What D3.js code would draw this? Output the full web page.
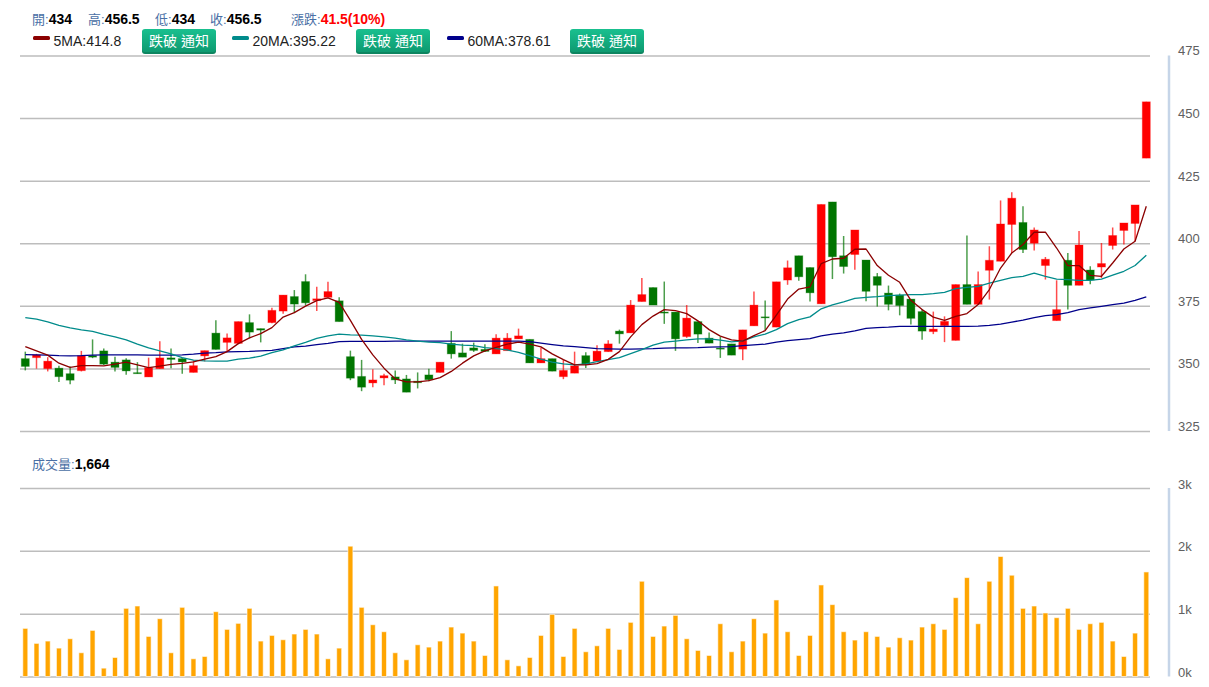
<!DOCTYPE html>
<html>
<head>
<meta charset="utf-8">
<script src="https://cdn.jsdelivr.net/npm/d3@7"></script>
<style>
  html, body { margin: 0; padding: 0; background: #fff; }
  svg { display: block; font-family: "Liberation Sans", Arial, "Noto Sans CJK TC", sans-serif; }
  .axis path, .axis line { display: none; }
  .axis text { fill: #606060; font-size: 13px; }
  .grid path { display: none; }
  .grid text { display: none; }
  .grid line { stroke: #bdbdbd; stroke-width: 1.5; }
</style>
</head>
<body>
<div id="chart"></div>
<script>
const opens = [353.9,354.3,349.9,350.1,347.9,349.1,355.1,357,352.5,353.4,348.3,346.6,349.9,354.2,353.9,348.4,355,364.1,360.4,360,368.3,365.9,368.3,372.9,378.7,384.7,377.1,378.4,377,354.7,346.8,344.2,346.2,346.6,345.8,344.9,347.4,348.4,360,356.2,358.2,357.6,355.8,357.1,361.8,361.6,352.2,353.9,346.7,348.1,355.1,352.9,356.7,364.9,364.2,376.7,382.3,372.5,372.5,362.7,368.7,362.1,358.1,359.8,357.7,367,370.6,366.5,385.3,395,390.3,375.8,416.5,395,395.5,393.3,386.7,380.1,379.3,377.7,372.7,364.7,367.1,361.2,383.5,375.6,389.2,392.8,407.5,408.3,400,391.1,369.1,393.2,383.2,389.3,390.5,399.1,405.1,407.9,434];
const highs = [356.7,355.8,354.5,351.1,350.8,357,361.6,358,354.7,354.1,352.5,354.3,360.9,358,354.1,353.2,357.1,369.2,363.9,368.7,371.6,365.9,374.2,379.3,381.3,387.6,382.6,384.6,378.4,357.1,353.4,349.7,347.9,349.2,347.4,348.4,349.9,352.5,364.9,359.9,360.3,359.7,363.6,364.1,365.9,361.6,358.3,353.9,353.4,356.7,356.5,359.3,361.3,365.5,377.3,386.1,382.3,384.7,372.5,375.3,368.7,364.3,362.6,359.8,365.4,380.7,377.1,384.6,393.1,395,390.3,415.5,416.5,402.9,405.3,393.3,388.1,383.1,379.9,377.7,373.7,372.7,370.8,383.5,403.1,388.7,398.8,417.1,420.4,414.8,406.3,394.5,385.2,396.1,404.9,390.8,400.1,406.3,408.1,415.3,456.5];
const lows = [349.2,349.9,348.8,344.6,343.7,348.8,354.1,351.4,348.8,347.5,347.9,346.6,349.9,350.1,347.9,348.4,352.8,357.6,356.7,359.7,362,360.4,368,371.8,372.1,375.1,372.9,378.4,368.7,345.3,340.9,342.5,343.3,343.8,340.5,342,344.9,348.4,353.9,354.5,356.6,356.6,355.8,357.1,361.8,352.2,352.2,348.9,345.7,348.1,350.2,352.9,356.7,359.9,364.2,376.7,375.3,367.8,357,362.2,360.2,360.1,354.2,355.3,353.3,367,365.3,366.5,383.4,385,376.7,375.8,385.7,387.9,389.4,376.8,374.7,373.2,371.2,367.5,361.5,363.7,360.5,361.2,375.6,375.6,377.5,392.8,396.1,396.1,397.1,385.5,369.1,373.5,383.2,383.6,386.1,397.5,399.5,400.8,434];
const closes = [350.8,355.4,352.9,346.7,345.3,355.1,354.5,351.7,350.4,349,348,350.3,354.2,353.6,352.6,351.1,357.1,357.6,362.2,368.7,364.5,365.3,373.2,379.3,375.7,376.2,377.8,380.7,368.7,346.1,342.5,345.4,347.1,345.4,340.5,344.3,345.5,352.5,355.8,354.5,357.2,356.8,362.1,362.1,363,352.2,353.9,348.9,349.2,351,351.7,356.9,359.8,363.8,375.3,379.5,375.3,372.1,361.8,370.1,363.7,360.1,357.7,355.3,365.4,375.3,370.2,384.6,390.2,386.6,380.2,415.5,394.6,390.7,405.3,380.8,383.2,375.6,375.1,370,364.9,365.7,368.8,383.5,375.6,383.5,393.2,407.7,418,397.5,405.3,393.6,373.5,383.2,399.3,385.3,391.9,403.1,408.1,415.3,456.5];
const volumes = [766,527,564,452,601,378,734,133,303,1085,1122,638,920,378,1101,282,319,1032,750,846,1085,564,654,585,676,750,676,282,452,2074,1101,824,713,378,266,505,468,564,787,691,564,335,1441,266,170,303,654,989,319,766,394,489,766,431,862,1516,638,803,973,601,415,335,840,394,564,920,691,1218,713,335,654,1457,1144,713,580,713,638,468,617,580,787,840,750,1255,1574,840,1516,1910,1612,1085,1122,1011,936,1085,750,840,862,564,319,691,1664];
const ma5 = [358.7,357,355.3,352.1,350.4,351.1,351.1,351,351.7,352.5,351.4,350.3,350.9,351.6,352,352.6,353.7,354.7,356.7,359.9,362.2,363.9,366.3,370.5,372.3,374.9,377.1,378.2,376.4,369.2,361.6,355.4,350.1,345.8,344.6,344.6,345.1,346.3,348.8,352.1,355,357,358.4,359.7,360.5,359.7,358.6,355.8,353.5,351.4,351.4,351.9,353.6,356.7,362.6,367.5,370.9,373.5,373.1,371.9,369,365.5,362.9,361.4,360.9,363.1,365.1,371.3,377.7,381.7,382.6,391.9,393.7,394,397.6,397.7,391.1,387.2,384.4,377.2,373.5,370.5,369.2,370.8,371.9,375.5,381.5,390.1,396.1,399.5,404.4,404.4,398.1,391.1,391.1,387.2,386.8,392.1,397.7,400.8,414.8];
const ma20 = [370.3,369.7,368.6,367.2,366.2,365.4,364.8,363.6,362.6,361.4,359.7,358.2,357,355.8,354.3,353.3,353,352.9,352.9,353.7,354.1,354.9,356.3,357.4,359,360.4,362,363,363.7,363.4,363.3,363,362.6,362.1,361.4,360.9,360.5,360.3,359.7,359.3,359.1,358.3,357.9,357.4,356.4,355.1,353.7,352.5,351.8,351.4,351.8,352.7,353.5,354.3,355.9,357.5,359.3,360.5,360.9,361.4,361.8,361.8,361.3,360.6,361,362.6,363.7,365.5,367.9,369.5,370.6,373.8,375.4,376.6,378,378.4,378.7,379.1,379.3,379.5,379.5,379.9,380.4,381.9,382.4,382.8,384.1,385.2,386.3,386.8,388.1,386.8,385.7,385.5,385.2,385.2,385.7,387.3,388.8,391.1,395.22];
const ma60 = [355.5,355.4,355.3,355.1,355,355.1,355.3,355.4,355.4,355.4,355.4,355.3,355.3,355.3,355.4,355.7,356.1,356.3,356.6,356.7,356.8,357,357.2,357.9,358.6,358.9,359.5,360,360.7,360.8,360.8,360.8,360.8,360.9,360.9,360.9,360.9,360.9,360.9,360.9,360.9,360.9,360.9,360.9,360.9,360.7,360.1,359.5,359,358.7,358.3,357.9,357.8,357.7,357.7,357.8,357.9,358.1,358.2,358.2,358.3,358.5,358.6,358.7,359.1,359.4,359.7,360.5,361.1,361.5,361.9,363,363.7,364.2,365,366,366.3,366.5,366.8,366.8,366.8,366.8,366.8,366.8,366.8,366.9,367.2,367.7,368.5,369.3,370.3,371.1,371.5,372.3,373.5,374.2,374.8,375.5,376.1,377.2,378.61];
const priceTicks = [325, 350, 375, 400, 425, 450, 475];
const volumeTicks = [0, 1000, 2000, 3000];

const quoteLabels = [
  { x: 32, name: "開:", value: "434" },
  { x: 88, name: "高:", value: "456.5" },
  { x: 155, name: "低:", value: "434" },
  { x: 210, name: "收:", value: "456.5" }
];
const maLegend = [
  { x: 33, label: "5MA:414.8", color: "#8b0000", btn: 142 },
  { x: 232, label: "20MA:395.22", color: "#008b8b", btn: 356 },
  { x: 447, label: "60MA:378.61", color: "#00008b", btn: 570 }
];

const width = 1209, height = 687;
const left = 20, right = 1150;
const upColor = "#ff0000", downColor = "#007500";

const svg = d3.select("#chart").append("svg")
  .attr("width", width)
  .attr("height", height);

const defs = svg.append("defs");
const grad = defs.append("linearGradient").attr("id", "btnGrad")
  .attr("x1", 0).attr("y1", 0).attr("x2", 0).attr("y2", 1);
grad.append("stop").attr("offset", "0%").attr("stop-color", "#19c08f");
grad.append("stop").attr("offset", "100%").attr("stop-color", "#0e9a70");

const x = d3.scaleLinear().domain([0, 100]).range([25.3, 1146.3]);
const y = d3.scaleLinear().domain([325, 475]).range([431, 55.5]);
const yVol = d3.scaleLinear().domain([0, 3000]).range([676.5, 488]);

// gridlines
svg.append("g").attr("class", "grid")
  .attr("transform", `translate(${left},0)`)
  .call(d3.axisLeft(y).tickValues(priceTicks).tickSize(-(right - left)));
svg.append("g").attr("class", "grid")
  .attr("transform", `translate(${left},0)`)
  .call(d3.axisLeft(yVol).tickValues(volumeTicks).tickSize(-(right - left)));

// axis rules on the right
svg.append("line").attr("x1", 1169).attr("x2", 1169).attr("y1", y(475)).attr("y2", y(325))
  .attr("stroke", "#c6d5e8").attr("stroke-width", 2.5);
svg.append("line").attr("x1", 1169).attr("x2", 1169).attr("y1", yVol(3000)).attr("y2", yVol(0))
  .attr("stroke", "#c6d5e8").attr("stroke-width", 2.5);

const priceAxis = svg.append("g").attr("class", "axis")
  .attr("transform", "translate(1178,0)")
  .call(d3.axisRight(y).tickValues(priceTicks).tickSize(0).tickPadding(0));
priceAxis.selectAll("text").attr("dy", "-0.05em");

const volAxis = svg.append("g").attr("class", "axis")
  .attr("transform", "translate(1178,0)")
  .call(d3.axisRight(yVol).tickValues(volumeTicks).tickSize(0).tickPadding(0)
    .tickFormat(d => (d / 1000) + "k"));
volAxis.selectAll("text").attr("dy", "0em");

// candles
const candles = svg.append("g").selectAll("g")
  .data(d3.range(opens.length))
  .join("g")
  .each(function (i) {
    const up = closes[i] >= opens[i];
    const c = up ? upColor : downColor;
    const g = d3.select(this);
    g.append("line")
      .attr("x1", x(i)).attr("x2", x(i))
      .attr("y1", y(highs[i])).attr("y2", y(lows[i]))
      .attr("stroke", c).attr("stroke-width", 1.5).attr("stroke-opacity", 0.7);
    const top = y(Math.max(opens[i], closes[i]));
    const bottom = y(Math.min(opens[i], closes[i]));
    g.append("rect")
      .attr("x", x(i) - 4).attr("width", 8)
      .attr("y", top).attr("height", Math.max(bottom - top, 1))
      .attr("fill", c)
      .attr("stroke", c).attr("stroke-width", 1).attr("stroke-opacity", 0.3);
  });

// moving averages
const maLine = d3.line().x((d, i) => x(i)).y(d => y(d));
[[ma60, "#00008b"], [ma20, "#008b8b"], [ma5, "#8b0000"]].forEach(([values, color]) => {
  svg.append("path")
    .attr("d", maLine(values))
    .attr("fill", "none")
    .attr("stroke", color)
    .attr("stroke-width", 1.3)
    .attr("stroke-linejoin", "round");
});

// volume bars
svg.append("g").selectAll("rect")
  .data(volumes)
  .join("rect")
  .attr("x", (d, i) => x(i) - 2.5)
  .attr("width", 5)
  .attr("y", d => yVol(d))
  .attr("height", d => yVol(0) - yVol(d))
  .attr("fill", "#ffa500")
  .attr("stroke", "#fff")
  .attr("stroke-width", 1)
  .attr("stroke-opacity", 0.6);

// quote row
const quoteRow = svg.append("g");
quoteLabels.forEach(q => {
  const t = quoteRow.append("text").attr("x", q.x).attr("y", 24).attr("font-size", 14);
  t.append("tspan").attr("fill", "#4a6fa5").attr("font-size", 13).text(q.name);
  t.append("tspan").attr("fill", "#000").attr("font-weight", "bold").text(q.value);
});
const change = quoteRow.append("text").attr("x", 291).attr("y", 24).attr("font-size", 14);
change.append("tspan").attr("fill", "#4a6fa5").attr("font-size", 13).text("漲跌:");
change.append("tspan").attr("fill", "#f00").attr("font-weight", "bold").text("41.5(10%)");

// legend row
maLegend.forEach(m => {
  svg.append("rect").attr("x", m.x).attr("y", 36).attr("width", 17).attr("height", 4)
    .attr("rx", 1.5).attr("fill", m.color);
  svg.append("text").attr("x", m.x + 20.5).attr("y", 46)
    .attr("font-size", 14).attr("fill", "#222").text(m.label);
  svg.append("rect").attr("x", m.btn).attr("y", 30).attr("width", 74).attr("height", 24)
    .attr("rx", 3).attr("fill", "#0d8560");
  svg.append("rect").attr("x", m.btn).attr("y", 29).attr("width", 74).attr("height", 23)
    .attr("rx", 3).attr("fill", "url(#btnGrad)");
  svg.append("text").attr("x", m.btn + 37).attr("y", 46).attr("text-anchor", "middle")
    .attr("font-size", 14).attr("fill", "#fff").text("跌破 通知");
});

// volume title
const volTitle = svg.append("text").attr("x", 32).attr("y", 469).attr("font-size", 14);
volTitle.append("tspan").attr("fill", "#4a6fa5").attr("font-size", 13).text("成交量:");
volTitle.append("tspan").attr("fill", "#000").attr("font-weight", "bold").text("1,664");
</script>
</body>
</html>
